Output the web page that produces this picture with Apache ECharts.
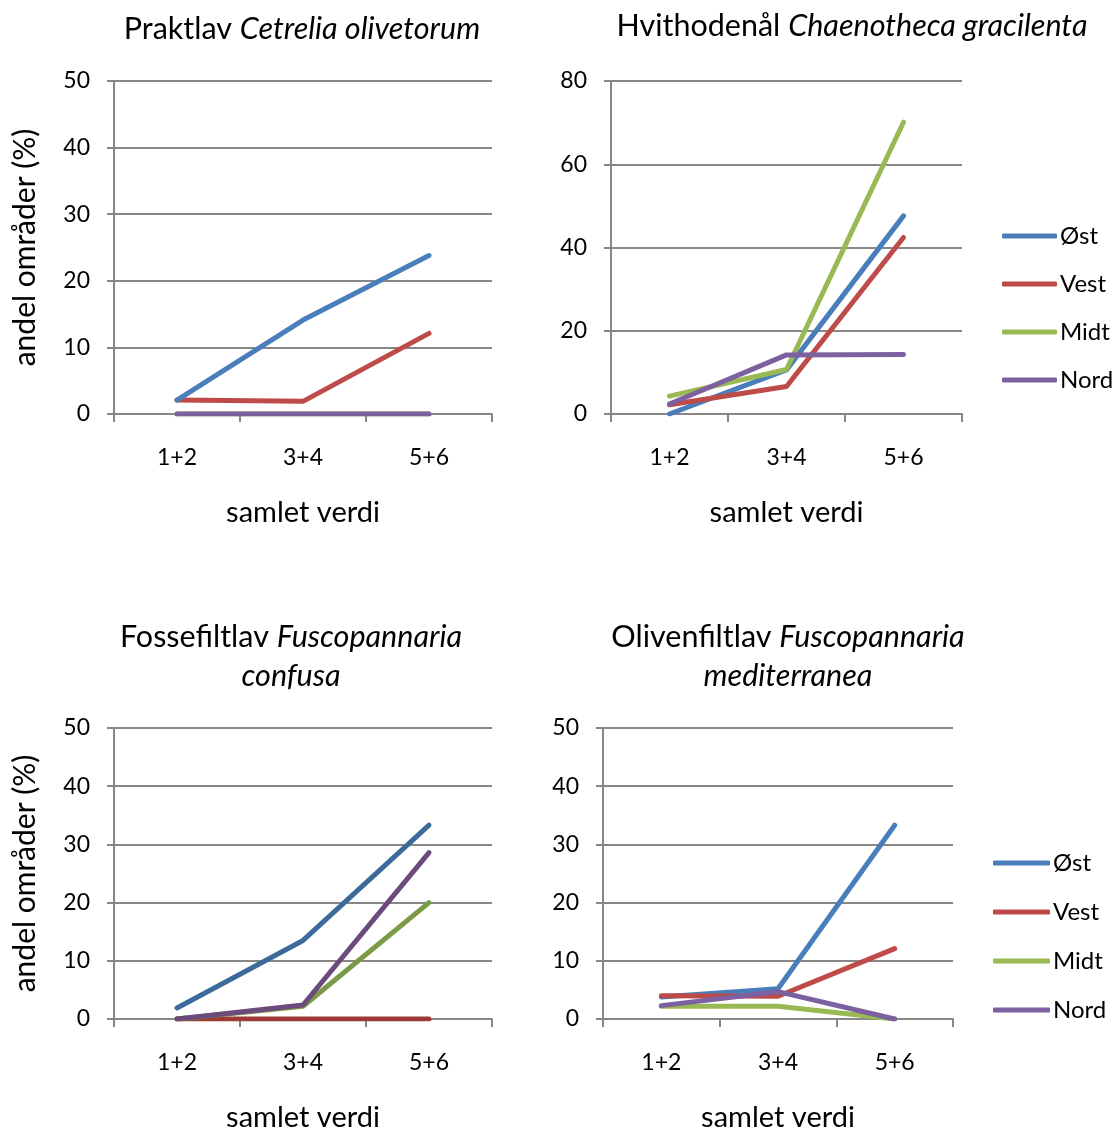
<!DOCTYPE html>
<html>
<head>
<meta charset="utf-8">
<script src="https://cdn.jsdelivr.net/npm/echarts@6/dist/echarts.min.js"></script>
<style>html,body{margin:0;padding:0;background:#fff;}#c{width:1116px;height:1133px;}</style>
</head>
<body>
<div id="c"></div>
<script>
const categories = ['1+2', '3+4', '5+6'];
const seriesNames = ['Øst', 'Vest', 'Midt', 'Nord'];

// Chart 1: Praktlav Cetrelia olivetorum
const c1_ost  = [2.1, 14.1, 23.8];
const c1_vest = [2.1, 1.9, 12.1];
const c1_midt = [0, 0, 0];
const c1_nord = [0, 0, 0];

// Chart 2: Hvithodenål Chaenotheca gracilenta
const c2_ost  = [0, 10.6, 47.6];
const c2_vest = [2.2, 6.6, 42.4];
const c2_midt = [4.3, 10.7, 70.1];
const c2_nord = [2.4, 14.2, 14.3];

// Chart 3: Fossefiltlav Fuscopannaria confusa
const c3_ost  = [1.9, 13.5, 33.3];
const c3_vest = [0, 0, 0];
const c3_midt = [0, 2.2, 20.0];
const c3_nord = [0, 2.4, 28.6];

// Chart 4: Olivenfiltlav Fuscopannaria mediterranea
const c4_ost  = [3.8, 5.2, 33.3];
const c4_vest = [4.0, 3.9, 12.1];
const c4_midt = [2.2, 2.2, 0];
const c4_nord = [2.3, 4.7, 0];

const FONT = 'Lato, "Open Sans", sans-serif';
const GRAY = '#878787';
const colors = ['#4a7ebb', '#be4b48', '#98b954', '#7d60a0'];
const darkColors = ['#3c6a99', '#9d3a36', '#7b9a46', '#6b4a7c'];

const grids = [
  {left: 114, top: 81, width: 378, height: 333},
  {left: 611, top: 81, width: 351, height: 333},
  {left: 114, top: 728, width: 378, height: 295},
  {left: 603, top: 728, width: 350, height: 295}
];

function xAxis(i) {
  return {
    type: 'category', gridIndex: i, data: categories, boundaryGap: true,
    axisLine: {lineStyle: {color: GRAY, width: 2}},
    axisTick: {show: true, length: 8, lineStyle: {color: GRAY, width: 2}},
    axisLabel: {color: '#000', fontSize: 23, fontFamily: FONT, margin: 32},
    name: 'samlet verdi', nameLocation: 'middle', nameGap: 84,
    nameTextStyle: {color: '#000', fontSize: 29, fontFamily: FONT}
  };
}
function yAxis(i, max, interval, showName) {
  const a = {
    type: 'value', gridIndex: i, min: 0, max: max, interval: interval,
    axisLine: {show: true, lineStyle: {color: GRAY, width: 2}},
    axisTick: {show: true, length: 7, lineStyle: {color: GRAY, width: 2}},
    axisLabel: {color: '#000', fontSize: 23, fontFamily: FONT, margin: 24},
    splitLine: {show: true, lineStyle: {color: GRAY, width: 2}}
  };
  if (showName) {
    a.name = 'andel områder (%)';
    a.nameLocation = 'middle';
    a.nameGap = 74;
    a.nameTextStyle = {color: '#000', fontSize: 30, fontFamily: FONT};
  }
  return a;
}

const data = [
  [c1_ost, c1_vest, c1_midt, c1_nord],
  [c2_ost, c2_vest, c2_midt, c2_nord],
  [c3_ost, c3_vest, c3_midt, c3_nord],
  [c4_ost, c4_vest, c4_midt, c4_nord]
];
// drawing order so overlapping lines look like the reference
const order = [
  [2, 3, 1, 0],
  [0, 1, 2, 3],
  [1, 2, 3, 0],
  [2, 0, 1, 3]
];

const series = [];
for (let g = 0; g < 4; g++) {
  const pal = g === 2 ? darkColors : colors;
  order[g].forEach(function (k, z) {
    series.push({
      name: seriesNames[k], type: 'line', xAxisIndex: g, yAxisIndex: g,
      data: data[g][k], symbol: 'none', z: 3 + z,
      lineStyle: {color: pal[k], width: 5, cap: 'round', join: 'round'},
      itemStyle: {color: colors[k]},
      emphasis: {disabled: true}, animation: false
    });
  });
}

function legend(left, top, w, gap) {
  return {
    data: seriesNames, orient: 'vertical', left: left, top: top, padding: 0,
    itemWidth: w, itemHeight: 5, itemGap: gap, icon: 'roundRect',
    textStyle: {color: '#000', fontSize: 24, fontFamily: FONT, padding: [0, 0, 0, -2]},
    selectedMode: false
  };
}

const titleStyle = {
  color: '#000', fontSize: 30.5, fontWeight: 'normal', fontFamily: FONT, lineHeight: 39,
  rich: {i: {fontStyle: 'italic', fontWeight: 'normal', fontSize: 30.5, fontFamily: FONT, color: '#000', lineHeight: 39}}
};
function title(text, left, top) {
  return {text: text, left: left, top: top, textAlign: 'center', textStyle: titleStyle, padding: 0};
}

const option = {
  backgroundColor: '#fff',
  animation: false,
  title: [
    title('Praktlav {i|Cetrelia olivetorum}', 302, 10),
    title('Hvithodenål {i|Chaenotheca gracilenta}', 852, 7),
    title('Fossefiltlav {i|Fuscopannaria}\n{i|confusa}', 291, 618),
    title('Olivenfiltlav {i|Fuscopannaria}\n{i|mediterranea}', 788, 618)
  ],
  legend: [legend(1002, 224, 55, 24), legend(993, 851, 57, 25)],
  grid: grids,
  xAxis: [xAxis(0), xAxis(1), xAxis(2), xAxis(3)],
  yAxis: [yAxis(0, 50, 10, true), yAxis(1, 80, 20, false), yAxis(2, 50, 10, true), yAxis(3, 50, 10, false)],
  series: series
};

const chart = echarts.init(document.getElementById('c'), null, {renderer: 'canvas'});
chart.setOption(option);
</script>
</body>
</html>
